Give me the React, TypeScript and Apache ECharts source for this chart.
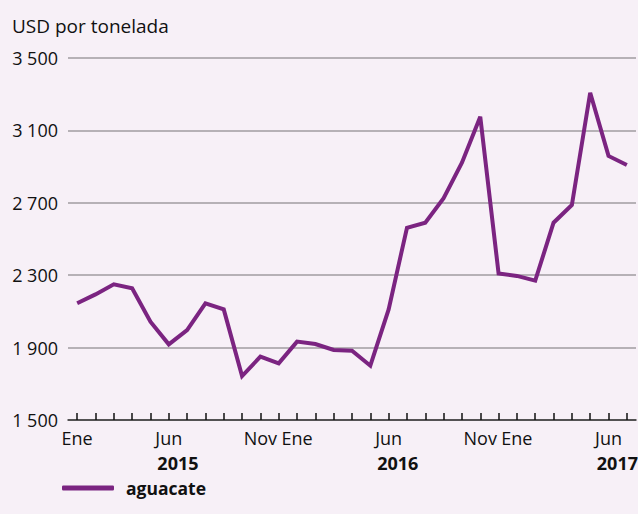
import React, { useEffect, useRef } from "react";
import * as echarts from "echarts";

const months = [
  "Ene", "Feb", "Mar", "Abr", "May", "Jun", "Jul", "Ago", "Sep", "Oct", "Nov", "Dic",
  "Ene", "Feb", "Mar", "Abr", "May", "Jun", "Jul", "Ago", "Sep", "Oct", "Nov", "Dic",
  "Ene", "Feb", "Mar", "Abr", "May", "Jun", "Jul",
];
const shownLabelIdx = [0, 5, 10, 12, 17, 22, 24, 29];
const years = ["2015", "2016", "2017"];
const yearSpans = [[0, 11], [12, 23], [24, 30]];
const aguacate = [
  2145, 2194, 2250, 2228, 2043, 1918, 1997, 2145, 2111, 1743, 1850, 1813,
  1933, 1920, 1887, 1883, 1800, 2111, 2562, 2590, 2725, 2922, 3176, 2310,
  2296, 2270, 2590, 2688, 3308, 2959, 2909,
];
const seriesName = "aguacate";
const yTitle = "USD por tonelada";

const FONT = "Open Sans";
const fmt = (v: number) => {
  const s = String(v);
  return s.length > 3 ? s.slice(0, s.length - 3) + " " + s.slice(-3) : s;
};

export default function App() {
  const ref = useRef<HTMLDivElement>(null);
  useEffect(() => {
    if (!ref.current) return;
    const chart = echarts.init(ref.current, null, { renderer: "svg" });
    chart.setOption({
      animation: false,
      backgroundColor: "#f7f0f7",
      textStyle: { fontFamily: FONT },
      grid: { left: 68, right: 2, top: 58, bottom: 94 },
      legend: {
        show: true,
        left: 62,
        top: 479,
        padding: 0,
        icon: "roundRect",
        itemWidth: 52,
        itemHeight: 5,
        data: [seriesName],
        textStyle: { fontFamily: FONT, fontSize: 17.5, fontWeight: "bold", color: "#111", padding: [0, 0, 0, 7] },
      },
      xAxis: {
        type: "category",
        data: months,
        boundaryGap: true,
        axisLine: { show: true, lineStyle: { color: "#333", width: 1.5 } },
        axisTick: { show: true, alignWithLabel: true, inside: true, length: 7, interval: 0, lineStyle: { color: "#111", width: 1.5 } },
        axisLabel: {
          interval: (i: number) => shownLabelIdx.includes(i),
          fontFamily: FONT,
          fontSize: 18,
          color: "#111",
          margin: 9,
        },
        splitLine: { show: false },
      },
      yAxis: {
        type: "value",
        min: 1500,
        max: 3500,
        interval: 400,
        axisLine: { show: false },
        axisTick: { show: false },
        axisLabel: { formatter: fmt, fontFamily: FONT, fontSize: 18, color: "#111", margin: 10 },
        splitLine: { show: true, lineStyle: { color: "#a09ca0", width: 1.5 } },
      },
      series: [
        {
          name: seriesName,
          type: "line",
          data: aguacate,
          symbol: "none",
          lineStyle: { color: "#7b2481", width: 4, join: "miter" },
          itemStyle: { color: "#7b2481" },
        },
      ],
    });
    const px = (i: number) => (chart.convertToPixel({ xAxisIndex: 0 }, i) as number);
    const yearGraphics = years.map((y, k) => {
      const [a, b] = yearSpans[k];
      const mid = (px(a) + px(b)) / 2;
      const last = k === years.length - 1;
      return {
        type: "text",
        x: last ? 638 : mid,
        y: 463,
        style: {
          text: y,
          fontFamily: FONT,
          fontSize: 18,
          fontWeight: "bold",
          fill: "#111",
          align: last ? "right" : "center",
          verticalAlign: "middle",
        },
      };
    });
    chart.setOption({
      graphic: [
        {
          type: "text",
          x: 12,
          y: 26,
          style: { text: yTitle, fontFamily: FONT, fontSize: 19, fill: "#111", verticalAlign: "middle" },
        },
        ...yearGraphics,
      ],
    });
    return () => chart.dispose();
  }, []);
  return <div ref={ref} style={{ position: "absolute", left: 0, top: 0, width: 638, height: 514 }} />;
}
